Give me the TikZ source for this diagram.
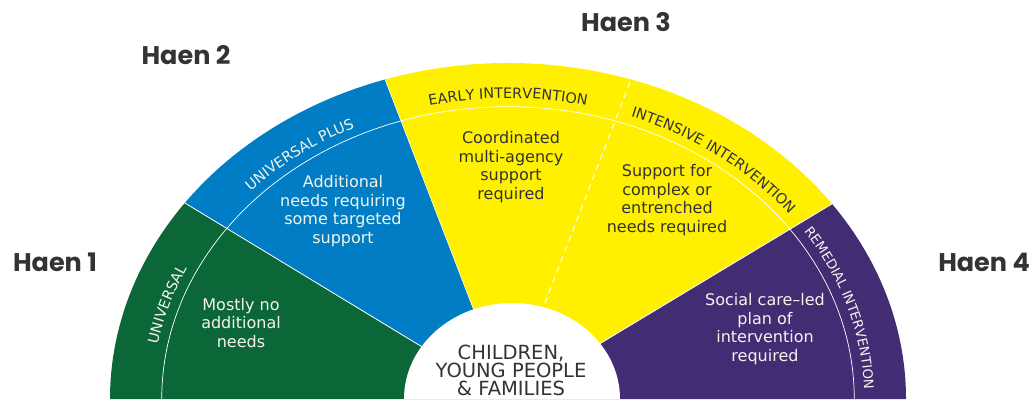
\documentclass[tikz,border=0pt]{standalone}
\usepackage{fontspec}
\setmainfont{DejaVu Sans}
\newfontfamily\haenfont{Poppins}
\usetikzlibrary{decorations.text}
\definecolor{cgreen}{HTML}{0C6738}
\definecolor{cblue}{HTML}{007DC4}
\definecolor{cyellow}{HTML}{FFF000}
\definecolor{cpurple}{HTML}{422D75}
\definecolor{ctext}{HTML}{333333}
\definecolor{clight}{HTML}{F4F4EC}
\newcommand{\lblfont}{\fontsize{14.4}{14.4}\selectfont}
\newcommand{\lblsmall}{\fontsize{13.3}{13.3}\selectfont}
\tikzset{
  body/.style={align=center, font=\fontsize{16}{18.7}\selectfont, inner sep=0pt},
  haen/.style={font=\haenfont\bfseries\fontsize{25.5}{25.5}\selectfont, text=ctext, inner sep=0pt},
  sep/.style={white, line width=0.8pt},
  band/.style={decorate, decoration={text along path, text align=center, text color=#1}},
}
\begin{document}
\begin{tikzpicture}[x=1pt,y=-1pt]
\useasboundingbox (0,0) rectangle (1032,400);

\begin{scope}[shift={(508,399)},x=398pt,y=336pt]
  % sectors
  \fill[cgreen]  (0,0) -- (180:1) arc[start angle=180,end angle=144.3,radius=1] -- cycle;
  \fill[cblue]   (0,0) -- (144.3:1) arc[start angle=144.3,end angle=108,radius=1] -- cycle;
  \fill[cyellow] (0,0) -- (108:1) arc[start angle=108,end angle=35.5,radius=1] -- cycle;
  \fill[cpurple] (0,0) -- (35.5:1) arc[start angle=35.5,end angle=0,radius=1] -- cycle;
  % separators
  \draw[sep] (0,0) -- (144.3:1);
  \draw[sep,line width=0.5pt] (0,0) -- (108:1);
  \draw[sep] (0,0) -- (35.5:1);
  \draw[white, line width=1pt, dash pattern=on 6pt off 5pt] (72:0.3) -- (72:1);
  % inner arc
  \draw[white, line width=0.7pt] (180:0.87) arc[start angle=180,end angle=0,radius=0.87];
  % band labels
  \path[band=clight, decoration={text={|\lblfont|UNIVERSAL}}]
    (180:0.895) arc[start angle=180,end angle=144.3,radius=0.895];
  \path[band=clight, decoration={text={|\lblfont|UNIVERSAL PLUS}}]
    (144.3:0.895) arc[start angle=144.3,end angle=108,radius=0.895];
  \path[band=ctext, decoration={text={|\lblfont|EARLY INTERVENTION}}]
    (108:0.895) arc[start angle=108,end angle=72,radius=0.895];
  \path[band=ctext, decoration={text={|\lblfont|INTENSIVE INTERVENTION}}]
    (72:0.895) arc[start angle=72,end angle=35.5,radius=0.895];
  \path[band=clight, decoration={text={|\lblsmall|REMEDIAL INTERVENTION}}]
    (35.5:0.895) arc[start angle=35.5,end angle=0,radius=0.895];
\end{scope}

% hub
\fill[white] (404,399) arc[start angle=180,end angle=0,x radius=108pt,y radius=96pt] -- cycle;

% body texts
\node[body, text=clight] (t1) at (241,323) {Mostly no\\additional\\needs};
\node[body, text=clight] (t2) at (343,211) {Additional\\needs requiring\\some targeted\\support};
\node[body, text=ctext] (t3) at (511,167) {Coordinated\\multi-agency\\support\\required};
\node[body, text=ctext] (t4) at (667,200) {Support for\\complex or\\entrenched\\needs required};
\node[body, text=clight] (t5) at (765,329) {Social care--led\\plan of\\intervention\\required};
\node[align=center, text=ctext, inner sep=0pt, font=\fontsize{19.5}{18}\selectfont] (hubtext) at (511,370) {CHILDREN,\\YOUNG PEOPLE\\\& FAMILIES};

% Haen labels
\node[haen] (h1) at (55,262) {Haen 1};
\node[haen] (h2) at (186,55) {Haen 2};
\node[haen] (h3) at (626,22) {Haen 3};
\node[haen] (h4) at (984,262) {Haen 4};
\end{tikzpicture}
\end{document}
